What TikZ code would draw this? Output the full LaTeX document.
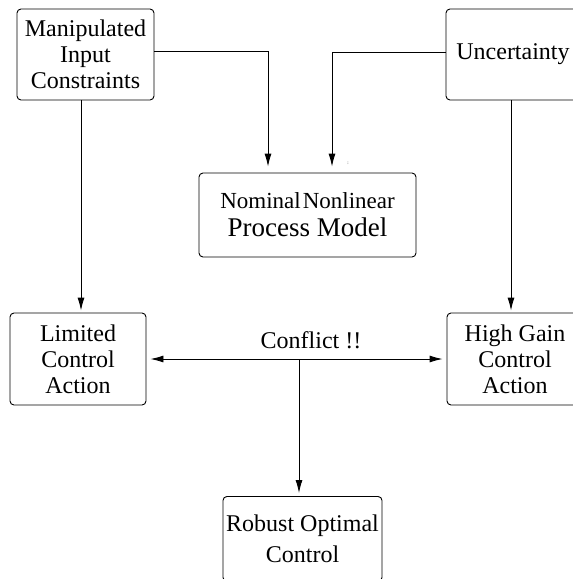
\documentclass[tikz,border=0pt]{standalone}
\usepackage{fontspec}
\setmainfont{Liberation Serif}
\usetikzlibrary{arrows.meta}
\begin{document}
\begin{tikzpicture}[x=1pt,y=-1pt,
  box/.style={draw, rounded corners=4pt, line width=0.9pt, align=center,
    font=\fontsize{24}{26}\selectfont, inner sep=0pt},
  arr/.style={line width=0.9pt, -{Latex[length=13pt,width=7pt]}},
  lbl/.style={font=\fontsize{24}{26}\selectfont, inner sep=0pt}
]
\useasboundingbox (0,0) rectangle (573,579);
\clip (0,0) rectangle (573,579);

\node[box, minimum width=137pt, minimum height=91pt] (M) at (85.5,54.5)
  {Manipulated\\Input\hspace*{14pt}\\Constraints};
\node[box, minimum width=217pt, minimum height=84pt] (N) at (307.5,215)
  {{\fontsize{23}{26}\selectfont Nominal\hspace{2pt}Nonlinear}\\[2pt]{\fontsize{27}{28}\selectfont Process Model}};
\node[box, minimum width=154pt, minimum height=91pt] (U) at (523,54.5)
  {Uncertainty\hspace*{20pt}};
\node[box, minimum width=136pt, minimum height=92pt] (L) at (78,359)
  {Limited\\Control\\Action};
\node[box, minimum width=136pt, minimum height=92pt] (H) at (515,359)
  {High Gain\\Control\\Action};
\node[box, anchor=north, minimum width=159pt, minimum height=85pt] (R) at (302.5,496)
  {Robust Optimal\\[5pt]Control};
\node[lbl] (conf) at (311,340) {Conflict !!};
\node[font=\fontsize{5}{5}\selectfont, inner sep=0pt] (colon) at (348,163) {:};
\coordinate (C) at (299,359);

\draw[arr, shorten >=6pt] (M.east |- 0,51) -| (N.north -| 268,0);
\draw[arr, shorten >=6pt] (U.west |- 0,52) -| (N.north -| 332,0);
\draw[arr, shorten >=2pt] (M.south -| 81,0) -- (L.north -| 81,0);
\draw[arr, shorten >=2pt] (U.south -| 511,0) -- (H.north -| 511,0);
\draw[arr, shorten >=4pt] (C) -- (L.east |- C);
\draw[arr, shorten >=4pt] (C) -- (H.west |- C);
\draw[arr, shorten >=3pt] (C) -- (R.north -| C);
\end{tikzpicture}
\end{document}
